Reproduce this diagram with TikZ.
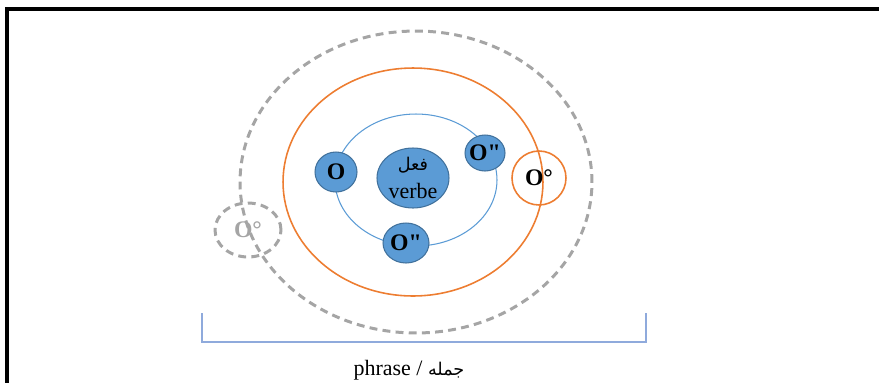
\documentclass[tikz,border=0pt]{standalone}
\usepackage{fontspec}
\setmainfont{Liberation Serif}
\newfontfamily\arabicfont[Script=Arabic]{DejaVu Sans}
\TeXXeTstate=1
\usepackage{xcolor}
\usetikzlibrary{shapes.geometric}

\definecolor{atomblue}{HTML}{5B9BD5}
\definecolor{atomedge}{HTML}{41719C}
\definecolor{ringorange}{HTML}{ED7D31}
\definecolor{ringgray}{HTML}{A5A5A5}
\definecolor{bracketblue}{HTML}{8FAADC}

\begin{document}
\begin{tikzpicture}[
    x=0.02cm, y=-0.02cm,
    orbit/.style={
        ellipse,
        draw=atomblue,
        line width=0.6pt,
        inner sep=0pt
    },
    outerorbit/.style={
        ellipse,
        draw=ringorange,
        line width=0.9pt,
        inner sep=0pt
    },
    farorbit/.style={
        ellipse,
        draw=ringgray,
        line width=1.7pt,
        dash pattern=on 4.5pt off 3pt,
        inner sep=0pt
    },
    atom/.style={
        ellipse,
        fill=atomblue,
        draw=atomedge,
        line width=0.6pt,
        inner sep=-2pt,
        font=\fontsize{13.5}{15}\selectfont\bfseries
    },
    satellite/.style={
        ellipse,
        inner sep=0pt,
        font=\fontsize{13.5}{15}\selectfont\bfseries
    },
    bracket/.style={draw=bracketblue, line width=0.8pt}
]
\useasboundingbox (0,0) rectangle (879,383);

% frame
\draw[line width=2.2pt] (879,9) -- (7,9) -- (7,383);

% orbits
\node[farorbit, minimum width=7.04cm, minimum height=6.04cm] (far) at (416,182) {};
\node[outerorbit, minimum width=5.2cm, minimum height=4.56cm] (outer) at (413,182) {};
\node[orbit, minimum width=3.24cm, minimum height=2.64cm] (inner) at (416,180) {};

% verb and objects
\node[atom, minimum width=1.44cm, minimum height=1.2cm] (verbe) at (413,178) {};
\node[align=center, font=\fontsize{12.5}{13}\selectfont] (verbetext) at (413,178)
    {{\arabicfont\fontsize{10}{11}\selectfont\beginR فعل\endR}\\[3pt]verbe};
\node[atom, minimum width=0.84cm, minimum height=0.8cm] (objleft) at (336,172) {O};
\node[atom, minimum width=0.8cm, minimum height=0.72cm] (objtop) at (485,153) {O\textquotedbl};
\node[atom, minimum width=0.92cm, minimum height=0.8cm] (objbottom) at (406,243) {O\textquotedbl};

% satellites
\node[satellite, draw=ringorange, line width=0.9pt,
      minimum width=1.08cm, minimum height=1.08cm] (satright) at (539,178) {O°};
\node[satellite, draw=ringgray, text=ringgray, line width=1.7pt,
      dash pattern=on 4.5pt off 3pt,
      minimum width=1.32cm, minimum height=1.08cm] (satleft) at (248,230) {O°};

% sentence bracket
\draw[bracket] (202,313) |- (646,342) -- (646,313);
\node[font=\fontsize{12.5}{14}\selectfont] (caption) at (409,370)
    {phrase / {\arabicfont\fontsize{10}{12}\selectfont\beginR جمله\endR}};

\end{tikzpicture}
\end{document}
